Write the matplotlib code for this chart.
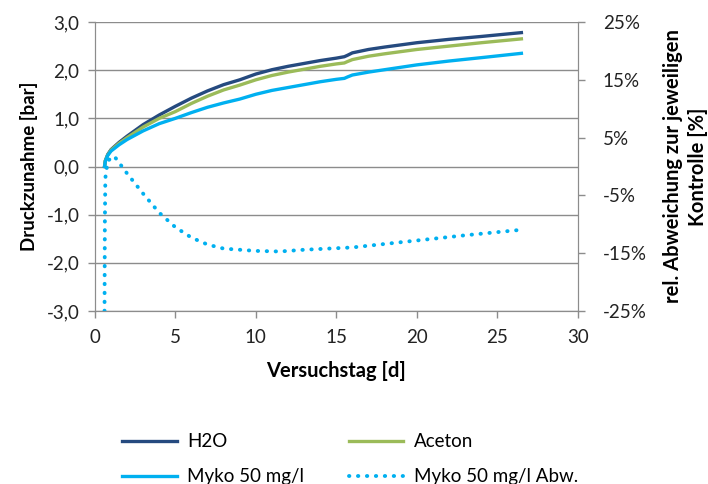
import matplotlib
matplotlib.use("Agg")
import matplotlib.pyplot as plt
from matplotlib.ticker import FuncFormatter

plt.rcParams['font.family'] = ['Lato', 'DejaVu Sans']

# Versuchstag [d]
days = [0.6, 0.65, 0.8, 1, 1.5, 2, 3, 4, 5, 6, 7, 8, 9, 10, 11, 12, 13, 14,
        15, 15.5, 15.7, 16, 17, 18, 20, 22, 24, 26.5]

# Druckzunahme [bar]
h2o = [0.0, 0.12, 0.25, 0.35, 0.5, 0.63, 0.87, 1.07, 1.25, 1.42, 1.57, 1.70,
       1.80, 1.92, 2.01, 2.08, 2.14, 2.2, 2.25, 2.28, 2.31, 2.36, 2.43, 2.48,
       2.57, 2.64, 2.70, 2.78]
aceton = [0.0, 0.12, 0.24, 0.34, 0.48, 0.6, 0.82, 1.0, 1.14, 1.31, 1.46, 1.59,
          1.69, 1.80, 1.89, 1.96, 2.02, 2.08, 2.13, 2.15, 2.18, 2.22, 2.29, 2.34,
          2.43, 2.50, 2.57, 2.65]
myko = [0.0, 0.11, 0.23, 0.32, 0.45, 0.56, 0.74, 0.89, 1.0, 1.12, 1.23, 1.32,
        1.40, 1.50, 1.58, 1.64, 1.70, 1.76, 1.81, 1.83, 1.86, 1.90, 1.96, 2.01,
        2.11, 2.19, 2.26, 2.35]

# rel. Abweichung Myko zur Kontrolle [%]
abw_days = [0.6, 0.62, 0.65, 0.8, 1.2, 2, 3, 4, 5, 6, 7, 8, 10, 11.5, 13, 16,
            20, 23, 26.3]
abw = [-25, -10, -2, 1, 1.8, -1.2, -4.7, -8, -10.5, -12.3, -13.5, -14.2,
       -14.6, -14.7, -14.4, -14.0, -12.8, -11.9, -11.0]

c_h2o = '#254A7F'
c_aceton = '#9BBB59'
c_myko = '#00B0F0'
c_grid = '#8C8C8C'
fs = 13.5

fig = plt.figure(figsize=(7.08, 4.84), dpi=100)
ax = fig.add_axes([0.134, 0.3574, 0.682, 0.5971])
ax2 = ax.twinx()

l1, = ax.plot(days, h2o, color=c_h2o, lw=2.4, label='H2O')
l2, = ax.plot(days, aceton, color=c_aceton, lw=2.4, label='Aceton')
l3, = ax.plot(days, myko, color=c_myko, lw=2.4, label='Myko 50 mg/l')
l4, = ax2.plot(abw_days, abw, color=c_myko, lw=2.8, linestyle=(0, (0.1, 2.2)),
               dash_capstyle='round', label='Myko 50 mg/l Abw.')

ax.set_xlim(0, 30)
ax.set_ylim(-3, 3)
ax.set_xticks(range(0, 31, 5))
ax.set_yticks([-3, -2, -1, 0, 1, 2, 3])
ax.yaxis.set_major_formatter(FuncFormatter(lambda v, p: f'{v:.1f}'.replace('.', ',')))
ax.grid(axis='y', color=c_grid, lw=1)
ax.set_axisbelow(True)

ax2.set_ylim(-25, 25)
ax2.set_yticks([-25, -15, -5, 5, 15, 25])
ax2.yaxis.set_major_formatter(FuncFormatter(lambda v, p: f'{v:.0f}%'))

for a in (ax, ax2):
    for s in a.spines.values():
        s.set_color(c_grid)
    a.spines['top'].set_visible(False)
    a.tick_params(colors=c_grid, labelcolor='#222222', labelsize=fs,
                  length=5, width=1, direction='out')
ax.tick_params(axis='x', pad=8)
ax.tick_params(axis='y', pad=6)
ax2.tick_params(axis='y', pad=13)

ax.set_xlabel('Versuchstag [d]', fontsize=14.5, fontweight='bold', labelpad=11)
ax.set_ylabel('Druckzunahme [bar]', fontsize=fs, fontweight='bold', labelpad=6)
ax2.set_ylabel('rel. Abweichung zur jeweiligen\nKontrolle [%]', fontsize=14.5,
               fontweight='bold', labelpad=12, linespacing=1.3)

fig.legend(handles=[l1, l3, l2, l4], loc='upper left', ncol=2,
           bbox_to_anchor=(0.162, 0.12), frameon=False, fontsize=fs,
           handlelength=2.9, columnspacing=2.4, labelspacing=0.95,
           borderaxespad=0, handletextpad=0.55)

fig.savefig('out.png', dpi=100)
